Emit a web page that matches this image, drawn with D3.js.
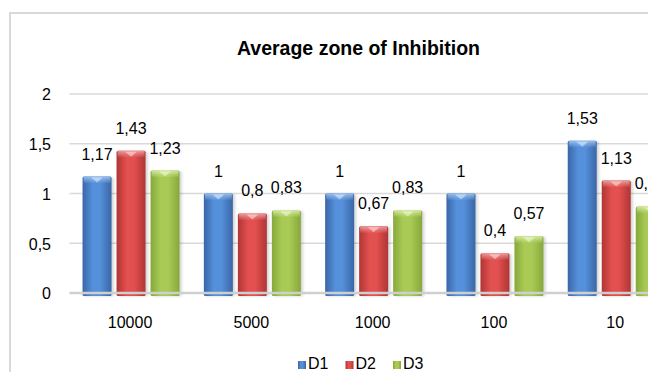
<!DOCTYPE html>
<html>
<head>
<meta charset="utf-8">
<script src="https://cdn.jsdelivr.net/npm/d3@7/dist/d3.min.js"></script>
<style>
html,body{margin:0;padding:0;background:#fff;overflow:hidden;}
svg{display:block;}
text{font-family:"Liberation Sans",Arial,sans-serif;fill:#000;}
</style>
</head>
<body>
<svg id="chart" width="648" height="372"></svg>
<script>
const categories = ["10000", "5000", "1000", "100", "10"];
const seriesNames = ["D1", "D2", "D3"];
const D1 = [1.17, 1, 1, 1, 1.53];
const D2 = [1.43, 0.8, 0.67, 0.4, 1.13];
const D3 = [1.23, 0.83, 0.83, 0.57, 0.87];
const yTicks = [0, 0.5, 1, 1.5, 2];
const title = "Average zone of Inhibition";

const seriesValues = {D1, D2, D3};
const colors = {
  D1: {mid: "#5590DA", edge: "#3A66A8", top: "#9CC2F0", leg: "#4F81BD"},
  D2: {mid: "#E2504F", edge: "#B03534", top: "#F0A0A0", leg: "#C0504D"},
  D3: {mid: "#A9CB55", edge: "#86A83C", top: "#D6ECA0", leg: "#9BBB59"}
};

const locale = d3.formatLocale({decimal: ",", thousands: ".", grouping: [3], currency: ["", ""]});
const fmt = locale.format("~g");

const svg = d3.select("#chart");
const defs = svg.append("defs");

seriesNames.forEach(s => {
  const g = defs.append("linearGradient").attr("id", "grad-" + s)
    .attr("x1", "0").attr("x2", "1").attr("y1", "0").attr("y2", "0");
  g.append("stop").attr("offset", "0").attr("stop-color", colors[s].edge);
  g.append("stop").attr("offset", "0.35").attr("stop-color", colors[s].mid);
  g.append("stop").attr("offset", "0.6").attr("stop-color", colors[s].mid);
  g.append("stop").attr("offset", "1").attr("stop-color", colors[s].edge);
  const t = defs.append("linearGradient").attr("id", "top-" + s)
    .attr("x1", "0").attr("x2", "0").attr("y1", "0").attr("y2", "1");
  t.append("stop").attr("offset", "0").attr("stop-color", colors[s].top).attr("stop-opacity", 0.95);
  t.append("stop").attr("offset", "1").attr("stop-color", colors[s].top).attr("stop-opacity", 0);
});
const blur = defs.append("filter").attr("id", "shadow").attr("x", "-20%").attr("y", "-20%").attr("width", "140%").attr("height", "140%");
blur.append("feGaussianBlur").attr("stdDeviation", 1.5);

// chart frame
svg.append("rect").attr("x", 10).attr("y", 13).attr("width", 700).attr("height", 420)
  .attr("fill", "none").attr("stroke", "#d9d9d9").attr("stroke-width", 2);

const y = d3.scaleLinear().domain([0, 2]).range([293, 94]);
const x = d3.scaleBand().domain(categories).range([69.4, 675.9]).paddingInner(0).paddingOuter(0);
const groupW = 97;
const xs = d3.scaleBand().domain(seriesNames)
  .range([(x.bandwidth() - groupW) / 2 + 1, (x.bandwidth() + groupW) / 2 + 1])
  .paddingInner(5 / 34).paddingOuter(0);

// gridlines
const grid = svg.append("g");
grid.selectAll("line").data(yTicks.filter(d => d > 0)).join("line")
  .attr("x1", x.range()[0]).attr("x2", 648)
  .attr("y1", d => y(d)).attr("y2", d => y(d))
  .attr("stroke", "#d9d9d9").attr("stroke-width", 1.5);

// y axis labels
const yAxis = d3.axisLeft(y).tickValues(yTicks).tickFormat(fmt).tickSize(0).tickPadding(0);
const yg = svg.append("g").attr("transform", "translate(51,0)").call(yAxis);
yg.select(".domain").remove();
yg.selectAll("text").attr("font-size", 16).attr("font-family", "Liberation Sans, Arial, sans-serif")
  .attr("fill", "#000").attr("dy", "0.36em");

// bars
const data = [];
categories.forEach((c, i) => seriesNames.forEach(s => data.push({c, s, v: seriesValues[s][i]})));

const bars = svg.append("g");
bars.selectAll("rect.sh").data(data).join("rect").attr("class", "sh")
  .attr("x", d => x(d.c) + xs(d.s) + 2).attr("y", d => y(d.v) + 1)
  .attr("width", xs.bandwidth()).attr("height", d => y(0) - y(d.v) + 2)
  .attr("fill", "#000").attr("opacity", 0.18).attr("filter", "url(#shadow)");
bars.selectAll("rect.bar").data(data).join("rect").attr("class", "bar")
  .attr("x", d => x(d.c) + xs(d.s)).attr("y", d => y(d.v))
  .attr("width", xs.bandwidth()).attr("height", d => y(0) - y(d.v) + 3)
  .attr("rx", 1.5)
  .attr("fill", d => "url(#grad-" + d.s + ")");
bars.selectAll("rect.top").data(data).join("rect").attr("class", "top")
  .attr("x", d => x(d.c) + xs(d.s) + 1).attr("y", d => y(d.v))
  .attr("width", xs.bandwidth() - 2).attr("height", 7)
  .attr("fill", d => "url(#top-" + d.s + ")");
bars.selectAll("path.hl").data(data).join("path").attr("class", "hl")
  .attr("d", d => {
    const x0 = x(d.c) + xs(d.s), w = xs.bandwidth(), t = y(d.v);
    return `M${x0 + w * 0.3},${t + 1}L${x0 + w * 0.7},${t + 1}L${x0 + w * 0.5},${t + 6}Z`;
  })
  .attr("fill", "#fff").attr("opacity", 0.45);

// baseline
svg.append("line").attr("x1", x.range()[0]).attr("x2", 648)
  .attr("y1", y(0)).attr("y2", y(0)).attr("stroke", "#cfcfcf").attr("stroke-width", 2.5);

// data labels
svg.append("g").selectAll("text").data(data).join("text")
  .attr("x", d => x(d.c) + xs(d.s) + xs.bandwidth() / 2)
  .attr("y", d => y(d.v) - 17)
  .attr("text-anchor", "middle").attr("font-size", 16)
  .text(d => fmt(d.v));

// x axis labels
const xAxis = d3.axisBottom(x).tickSize(0).tickPadding(0);
const xg = svg.append("g").attr("transform", "translate(0,328)").call(xAxis);
xg.select(".domain").remove();
xg.selectAll("text").attr("font-size", 16).attr("font-family", "Liberation Sans, Arial, sans-serif")
  .attr("fill", "#000").attr("dy", 0);

// title
svg.append("text").attr("x", 358.5).attr("y", 55).attr("text-anchor", "middle")
  .attr("font-size", 19.5).attr("font-weight", "bold").text(title);

// legend
const leg = svg.append("g");
const legX = d3.scalePoint().domain(seriesNames).range([298, 393]);
const li = leg.selectAll("g").data(seriesNames).join("g")
  .attr("transform", d => `translate(${legX(d)},0)`);
li.append("rect").attr("x", 0).attr("y", 361).attr("width", 8).attr("height", 8)
  .attr("fill", d => "url(#grad-" + d + ")");
li.append("text").attr("x", 10).attr("y", 369).attr("font-size", 16).text(d => d);
</script>
</body>
</html>
